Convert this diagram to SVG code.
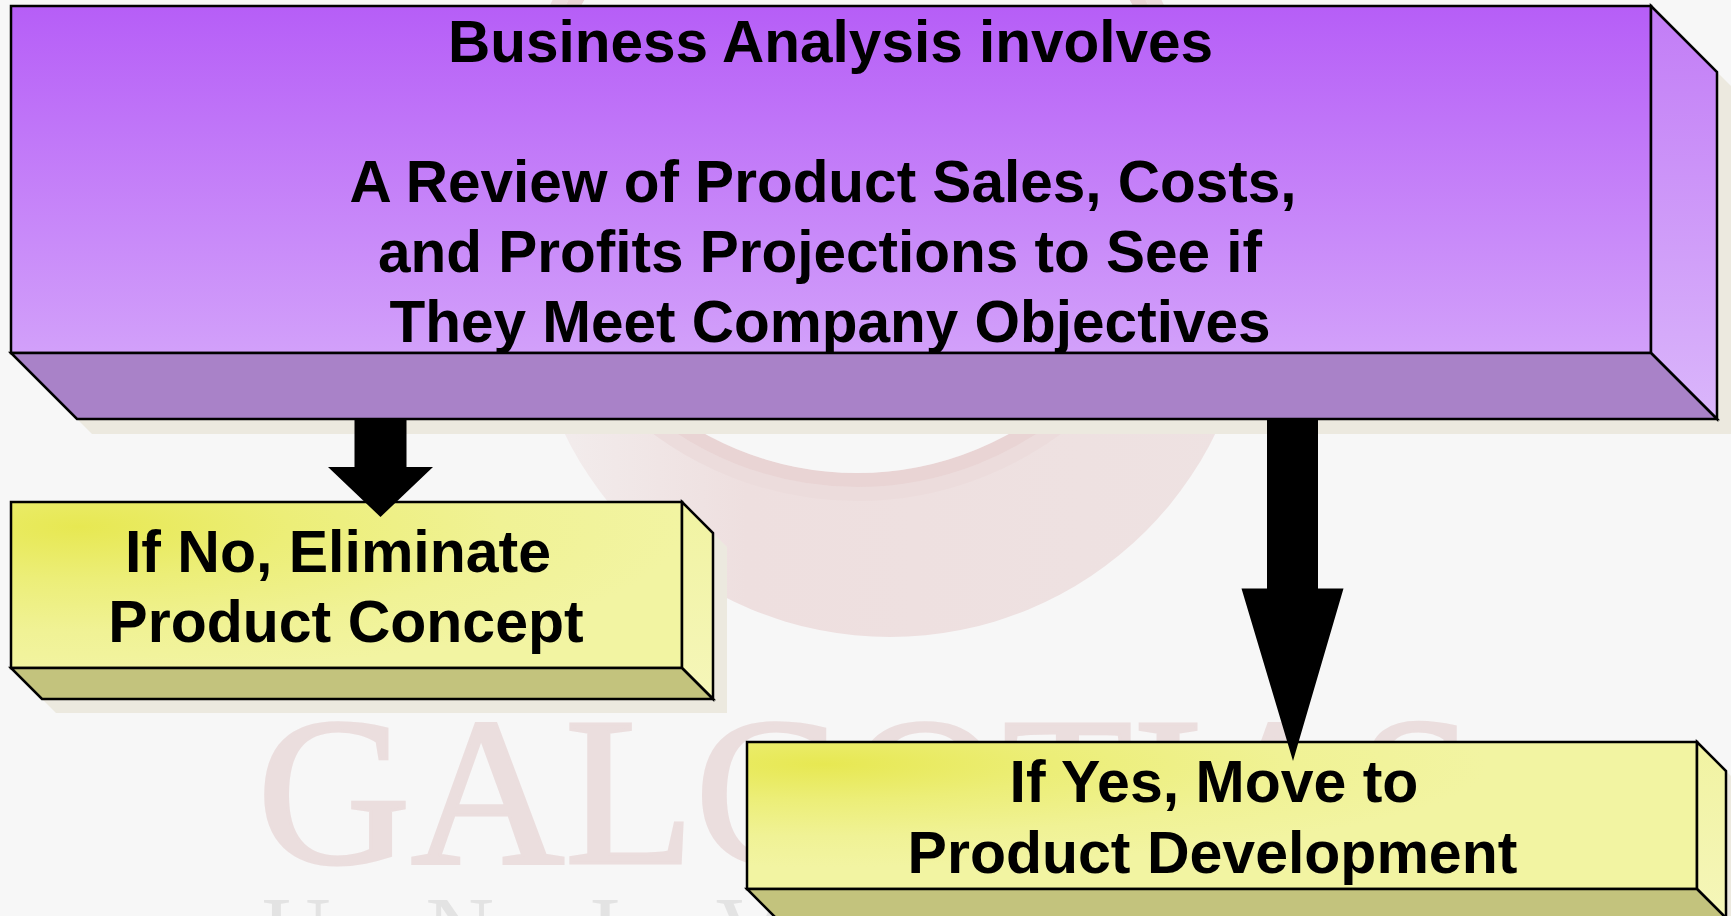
<svg xmlns="http://www.w3.org/2000/svg" width="1731" height="916" viewBox="0 0 1731 916">
  <defs>
    <linearGradient id="purpleFront" x1="0" y1="0" x2="0" y2="1">
      <stop offset="0" stop-color="#b65ef7"/>
      <stop offset="1" stop-color="#d2a0fa"/>
    </linearGradient>
    <linearGradient id="purpleSide" x1="0" y1="0" x2="0" y2="1">
      <stop offset="0" stop-color="#c27cf6"/>
      <stop offset="1" stop-color="#dab6fb"/>
    </linearGradient>
    <radialGradient id="yellowFrontA" cx="0.1" cy="0.15" r="0.9">
      <stop offset="0" stop-color="#e7e852"/>
      <stop offset="0.35" stop-color="#ecee78"/>
      <stop offset="0.7" stop-color="#f0f295"/>
      <stop offset="1" stop-color="#f2f4a2"/>
    </radialGradient>
    <radialGradient id="yellowFrontB" cx="0.08" cy="0.15" r="0.7">
      <stop offset="0" stop-color="#e7e852"/>
      <stop offset="0.35" stop-color="#ecee78"/>
      <stop offset="0.7" stop-color="#f0f295"/>
      <stop offset="1" stop-color="#f2f4a2"/>
    </radialGradient>
    <linearGradient id="yellowSide" x1="0" y1="0" x2="0" y2="1">
      <stop offset="0" stop-color="#f1f3a2"/>
      <stop offset="1" stop-color="#f5f6b9"/>
    </linearGradient>
    <linearGradient id="ringFill" gradientUnits="userSpaceOnUse" x1="530" y1="0" x2="1250" y2="0">
      <stop offset="0" stop-color="#f3eeee"/>
      <stop offset="0.3" stop-color="#eedfdf"/>
      <stop offset="1" stop-color="#eee2e2"/>
    </linearGradient>
  </defs>
  <style>
    .edge { stroke: #000; stroke-width: 2.5; stroke-linejoin: miter; }
    .shadow { fill: #ece9df; }
    .purple-bottom { fill: #a982c8; }
    .yellow-bottom { fill: #c3c37d; }
    .label { font-family: "Liberation Sans", Arial, sans-serif; font-weight: bold; fill: #000; text-anchor: middle; }
    .title { font-size: 58.5px; }
    .small { font-size: 59px; }
    .wm { font-family: "Liberation Serif", "Times New Roman", serif; }
    .arrow { fill: #000; }
  </style>

  <!-- page -->
  <rect x="0" y="0" width="1731" height="916" fill="#f7f7f7"/>

  <!-- faded emblem and wordmark in the background -->
  <g id="watermark">
    <circle cx="890" cy="275" r="362" fill="url(#ringFill)"/>
    <circle cx="857" cy="158" r="336" fill="none" stroke="#ecdcdc" stroke-width="14"/>
    <circle cx="857" cy="158" r="322" fill="none" stroke="#e9d4d4" stroke-width="14"/>
    <circle cx="857" cy="158" r="315" fill="#f7f7f7"/>
    <text class="wm" x="257" y="863" font-size="213" fill="#ebdede" stroke="#ebdede" stroke-width="3">GALGOTIAS</text>
    <text class="wm" x="262" y="963" font-size="95" letter-spacing="95" fill="#e3e3e3">UNIVERSITY</text>
  </g>

  <!-- top block -->
  <g id="node-business-analysis">
    <polygon class="shadow" points="26,21 1666,21 1732,87 1732,434 92,434 26,368"/>
    <rect class="edge" x="11" y="6" width="1640" height="347" fill="url(#purpleFront)"/>
    <polygon class="edge" points="1651,6 1717,72 1717,419 1651,353" fill="url(#purpleSide)"/>
    <polygon class="edge purple-bottom" points="11,353 1651,353 1717,419 77,419"/>
    <text class="label title" x="830.5" y="61.5">Business Analysis involves</text>
    <text class="label title" x="823" y="201.5">A Review of Product Sales, Costs,</text>
    <text class="label title" x="820" y="271.5">and Profits Projections to See if</text>
    <text class="label title" x="830" y="341.5">They Meet Company Objectives</text>
  </g>

  <!-- "no" outcome -->
  <g id="node-eliminate">
    <polygon class="shadow" points="25,516 696,516 727,547 727,713 56,713 25,682"/>
    <rect class="edge" x="11" y="502" width="671" height="166" fill="url(#yellowFrontA)"/>
    <polygon class="edge" points="682,502 713,533 713,699 682,668" fill="url(#yellowSide)"/>
    <polygon class="edge yellow-bottom" points="11,668 682,668 713,699 42,699"/>
    <text class="label small" x="338" y="572">If No, Eliminate</text>
    <text class="label small" x="346" y="642">Product Concept</text>
  </g>

  <!-- "yes" outcome -->
  <g id="node-development">
    <polygon class="shadow" points="761,756 1711,756 1740,785 1740,932 790,932 761,903"/>
    <rect class="edge" x="747" y="742" width="950" height="147" fill="url(#yellowFrontB)"/>
    <polygon class="edge" points="1697,742 1726,771 1726,918 1697,889" fill="url(#yellowSide)"/>
    <polygon class="edge yellow-bottom" points="747,889 1697,889 1726,918 776,918"/>
    <text class="label small" x="1214" y="801.5">If Yes, Move to</text>
    <text class="label small" x="1212.5" y="872.5">Product Development</text>
  </g>

  <!-- block arrows -->
  <g id="connectors">
    <polygon class="arrow" points="354.5,420 406.5,420 406.5,467 433,467 380.5,517 328,467 354.5,467"/>
    <polygon class="arrow" points="1267,420 1318,420 1318,588.5 1343.5,588.5 1293,761 1241.5,588.5 1267,588.5"/>
  </g>
</svg>
